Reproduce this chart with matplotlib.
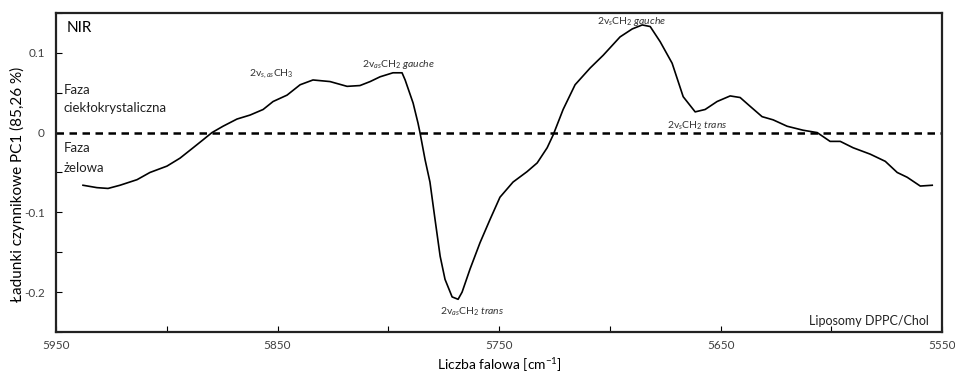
import matplotlib
matplotlib.use("Agg")
import matplotlib.pyplot as plt

plt.rcParams['font.family'] = ['Lato', 'DejaVu Sans']
plt.rcParams['mathtext.fontset'] = 'custom'
plt.rcParams['mathtext.rm'] = 'Lato'
plt.rcParams['mathtext.it'] = 'Lato:italic'

# PC1 loadings, NIR spectrum of DPPC/Chol liposomes
wavenumber = [5937.8, 5931.5, 5926.5, 5921.1, 5913.4, 5907.6, 5899.9, 5894.0, 5888.1,
              5883.6, 5879.6, 5874.6, 5868.3, 5862.4, 5856.5, 5852.0, 5845.7, 5839.8,
              5834.0, 5826.3, 5818.6, 5812.8, 5808.2, 5803.7, 5797.9, 5793.8, 5792.4,
              5788.8, 5786.6, 5785.7, 5783.4, 5781.2, 5778.9, 5776.6, 5774.4, 5771.2,
              5768.5, 5766.7, 5763.1, 5758.6, 5754.1, 5749.6, 5743.7, 5737.4, 5732.8,
              5728.3, 5725.6, 5722.5, 5721.1, 5715.7, 5708.9, 5703.0, 5695.4, 5689.9,
              5685.4, 5681.8, 5677.3, 5671.9, 5666.9, 5661.5, 5657.0, 5651.6, 5645.7,
              5641.2, 5636.7, 5631.3, 5626.3, 5620.0, 5612.8, 5606.4, 5600.6, 5596.0,
              5590.2, 5582.5, 5575.7, 5570.3, 5565.8, 5559.9, 5554.5]
loading = [-0.066, -0.069, -0.070, -0.066, -0.059, -0.050, -0.042, -0.032, -0.019,
           -0.009, 0.000, 0.008, 0.017, 0.022, 0.029, 0.039, 0.047, 0.060,
           0.066, 0.064, 0.058, 0.059, 0.064, 0.070, 0.075, 0.075, 0.066,
           0.037, 0.012, 0.000, -0.034, -0.062, -0.109, -0.155, -0.184, -0.206,
           -0.209, -0.200, -0.171, -0.138, -0.109, -0.081, -0.062, -0.049, -0.038,
           -0.019, -0.003, 0.019, 0.029, 0.060, 0.081, 0.097, 0.120, 0.130,
           0.135, 0.133, 0.114, 0.087, 0.045, 0.026, 0.029, 0.039, 0.046,
           0.044, 0.033, 0.020, 0.016, 0.008, 0.003, 0.000, -0.011, -0.011,
           -0.019, -0.027, -0.036, -0.050, -0.056, -0.067, -0.066]

x_ticks = [5950, 5900, 5850, 5800, 5750, 5700, 5650, 5600, 5550]
x_labels = ['5950', '', '5850', '', '5750', '', '5650', '', '5550']
y_ticks = [-0.25, -0.2, -0.15, -0.1, -0.05, 0, 0.05, 0.1, 0.15]
y_labels = ['', '-0.2', '', '-0.1', '', '0', '', '0.1', '']

# band assignments: (label, wavenumber, loading)
bands = [
    ('2v$_{s,as}$CH$_3$', 5853, 0.0725),
    ('2v$_{as}$CH$_2$ $\\it{gauche}$', 5795.5, 0.085),
    ('2v$_{as}$CH$_2$ $\\it{trans}$', 5762, -0.225),
    ('2v$_{s}$CH$_2$ $\\it{gauche}$', 5690, 0.139),
    ('2v$_{s}$CH$_2$ $\\it{trans}$', 5660.5, 0.009),
]

fig = plt.figure(figsize=(9.55, 3.74), dpi=100)
ax = fig.add_axes([0.0586, 0.1123, 0.928, 0.853])

ax.plot(wavenumber, loading, color='black', lw=1.2)
ax.axhline(0, color='black', lw=1.8, ls=(0, (3, 2.2)))

ax.set_xlim(5950, 5550)
ax.set_ylim(-0.25, 0.15)
ax.set_xticks(x_ticks)
ax.set_xticklabels(x_labels)
ax.set_yticks(y_ticks)
ax.set_yticklabels(y_labels)
ax.tick_params(direction='in', length=4, width=0.8, labelsize=8.5,
               labelcolor='#404040', pad=6)
ax.tick_params(axis='y', pad=8)
for s in ax.spines.values():
    s.set_linewidth(1.6)
    s.set_color('#222222')

ax.set_xlabel('Liczba falowa [cm$^{-1}$]', fontsize=10)
ax.xaxis.set_label_coords(0.5, -0.075)
ax.set_ylabel('Ładunki czynnikowe PC1 (85,26 %)', fontsize=11)
ax.yaxis.set_label_coords(-0.035, 0.464)

ax.text(0.012, 0.953, 'NIR', transform=ax.transAxes, fontsize=11, va='center')
phase = dict(transform=ax.transAxes, fontsize=9.5, va='center', color='#222222')
ax.text(0.009, 0.759, 'Faza', **phase)
ax.text(0.009, 0.702, 'ciekłokrystaliczna', **phase)
ax.text(0.009, 0.577, 'Faza', **phase)
ax.text(0.009, 0.514, 'żelowa', **phase)

for label, wn, val in bands:
    ax.text(wn, val, label, fontsize=7.5, ha='center', va='center', color='#333333')

ax.text(0.985, 0.036, 'Liposomy DPPC/Chol', transform=ax.transAxes,
        fontsize=9, ha='right', va='center', color='#222222')

fig.savefig('out.png', dpi=100)
